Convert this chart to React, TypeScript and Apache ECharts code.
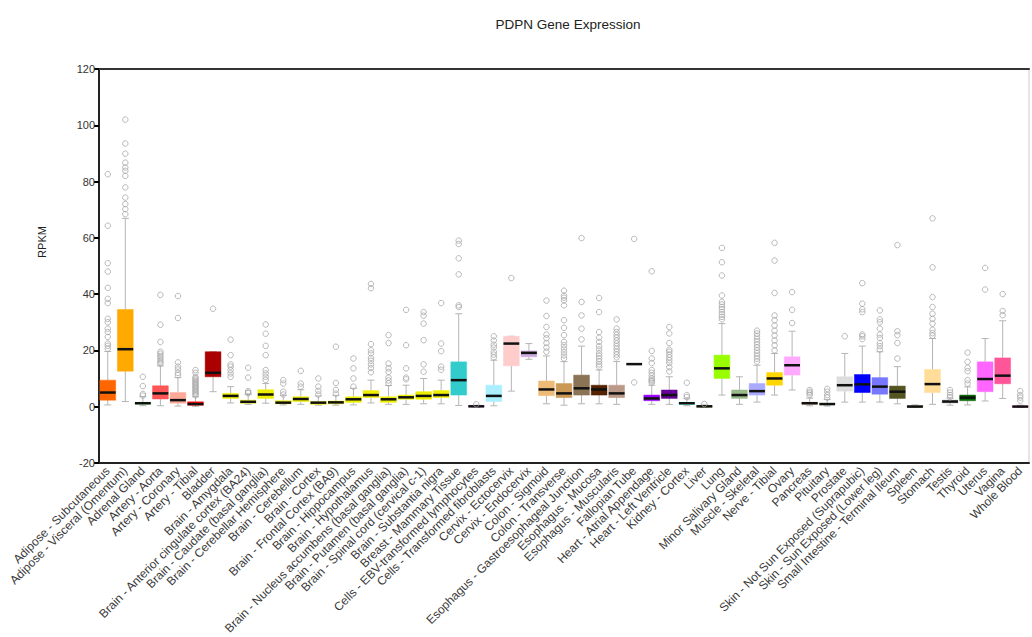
import React, { useEffect, useRef } from "react";
import * as echarts from "echarts";

const titleText = "PDPN Gene Expression";
const yAxisName = "RPKM";

const tissues = [
  "Adipose - Subcutaneous", "Adipose - Visceral (Omentum)", "Adrenal Gland", "Artery - Aorta",
  "Artery - Coronary", "Artery - Tibial", "Bladder", "Brain - Amygdala",
  "Brain - Anterior cingulate cortex (BA24)", "Brain - Caudate (basal ganglia)",
  "Brain - Cerebellar Hemisphere", "Brain - Cerebellum", "Brain - Cortex",
  "Brain - Frontal Cortex (BA9)", "Brain - Hippocampus", "Brain - Hypothalamus",
  "Brain - Nucleus accumbens (basal ganglia)", "Brain - Putamen (basal ganglia)",
  "Brain - Spinal cord (cervical c-1)", "Brain - Substantia nigra", "Breast - Mammary Tissue",
  "Cells - EBV-transformed lymphocytes", "Cells - Transformed fibroblasts", "Cervix - Ectocervix",
  "Cervix - Endocervix", "Colon - Sigmoid", "Colon - Transverse",
  "Esophagus - Gastroesophageal Junction", "Esophagus - Mucosa", "Esophagus - Muscularis",
  "Fallopian Tube", "Heart - Atrial Appendage", "Heart - Left Ventricle", "Kidney - Cortex",
  "Liver", "Lung", "Minor Salivary Gland", "Muscle - Skeletal", "Nerve - Tibial", "Ovary",
  "Pancreas", "Pituitary", "Prostate", "Skin - Not Sun Exposed (Suprapubic)",
  "Skin - Sun Exposed (Lower leg)", "Small Intestine - Terminal Ileum", "Spleen", "Stomach",
  "Testis", "Thyroid", "Uterus", "Vagina", "Whole Blood",
];

const boxColors = [
  "#FF6600", "#FFAA00", "#33DD33", "#FF5555", "#FFAA99", "#FF0000", "#AA0000", "#EEEE00",
  "#EEEE00", "#EEEE00", "#EEEE00", "#EEEE00", "#EEEE00", "#EEEE00", "#EEEE00", "#EEEE00",
  "#EEEE00", "#EEEE00", "#EEEE00", "#EEEE00", "#33CCCC", "#CC66FF", "#AAEEFF", "#FFCCCC",
  "#CCAADD", "#EEBB77", "#CC9955", "#8B7355", "#552200", "#BB9988", "#FFCCCC", "#9900FF",
  "#660099", "#22FFDD", "#AABB66", "#99FF00", "#99BB88", "#AAAAFF", "#FFD700", "#FFAAFF",
  "#995522", "#AAFF99", "#DDDDDD", "#0000FF", "#7777FF", "#555522", "#778855", "#FFDD99",
  "#AAAAAA", "#006600", "#FF66FF", "#FF5599", "#FF00BB",
];

const whiskerLow = [
  0.6, 1.8, 0.3, 0.3, 0.2, 0.1, 5.3, 1.3, 0.8, 1.2, 0.6, 0.8, 0.5, 0.5, 0.6, 1.3, 0.8, 0.8,
  1.0, 1.0, 0.4, -0.2, 0.3, 5.5, 16.8, 1.0, 0.5, 1.0, 1.0, 0.8, 15.1, 0.8, 0.8, 0.3, -0.3,
  4.1, 0.8, 1.6, 4.1, 5.9, 0.3, 0.2, 1.6, 1.6, 1.6, 1.0, -0.2, 0.8, 0.5, 0.6, 2.0, 2.9, -0.2,
];
const q1 = [
  2.3, 12.6, 0.9, 2.7, 1.2, 0.5, 10.6, 2.9, 1.2, 2.9, 1.0, 1.8, 0.8, 1.0, 1.5, 3.2, 1.5, 2.6,
  2.6, 3.2, 4.1, -0.1, 1.8, 14.5, 17.7, 3.9, 3.2, 4.1, 4.1, 3.2, 15.1, 2.1, 2.9, 0.8, -0.2,
  10.0, 2.9, 4.1, 7.6, 11.2, 0.9, 0.7, 5.5, 5.0, 4.4, 2.9, -0.1, 5.0, 1.3, 2.1, 5.3, 8.1, -0.1,
];
const medians = [
  5.0, 20.4, 1.2, 4.7, 2.3, 0.9, 12.0, 3.8, 1.7, 4.3, 1.4, 2.7, 1.4, 1.5, 2.6, 4.1, 2.6, 3.3,
  3.8, 4.1, 9.4, 0.1, 3.8, 22.4, 19.1, 6.1, 4.7, 6.5, 6.1, 4.7, 15.1, 2.9, 4.1, 1.2, 0.1,
  13.6, 4.1, 5.5, 10.0, 14.7, 1.2, 0.9, 7.6, 7.9, 7.1, 5.3, 0.0, 8.0, 1.8, 3.2, 9.8, 11.0, 0.0,
];
const q3 = [
  9.4, 34.5, 1.5, 7.4, 5.0, 1.7, 19.5, 4.7, 2.3, 6.0, 2.1, 3.5, 1.8, 2.0, 3.5, 5.7, 3.5, 4.1,
  5.3, 5.7, 15.9, 0.3, 7.6, 25.0, 19.8, 9.1, 8.2, 11.2, 7.6, 7.6, 15.1, 4.1, 5.9, 1.5, 0.3,
  18.3, 5.9, 8.2, 12.1, 17.7, 1.5, 1.2, 10.6, 11.4, 10.3, 7.3, 0.3, 13.2, 2.3, 4.1, 15.9, 17.3, 0.2,
];
const whiskerHigh = [
  19.6, 66.9, 3.5, 14.5, 10.3, 3.5, 19.5, 7.1, 4.3, 8.2, 4.0, 6.0, 3.8, 4.0, 6.5, 9.4, 7.5, 7.6,
  10.0, 9.4, 33.0, 0.5, 16.5, 25.0, 22.4, 18.0, 16.0, 21.5, 13.0, 16.0, 15.1, 7.6, 10.6, 2.8, 0.6,
  29.5, 10.6, 14.7, 18.9, 26.8, 3.0, 2.5, 18.9, 21.5, 19.5, 14.2, 0.6, 24.2, 3.0, 7.0, 24.2, 30.5, 0.5,
];

const outliers: number[][] = [
  [82.6, 64.3, 51, 48, 42.2, 38.3, 36.8, 31.2, 30, 27.7, 26.5, 24.8, 22.4, 21.6, 20.6],
  [102, 93.5, 89.9, 86.7, 85, 83.8, 82, 77.9, 74.3, 72, 70.2, 68.4],
  [10.6, 7.3, 4.5, 3.9],
  [39.7, 29.1, 23, 19.5, 18.8, 18, 17.3, 16.5, 15.8, 15.2],
  [39.3, 31.5, 15.7, 14.2, 13.2, 12, 11.2],
  [13, 12, 10.5, 10, 9.5, 9, 8.5, 8, 7.5, 7, 6.5, 6, 5.5, 5, 4.5, 4],
  [34.8],
  [23.8, 18.3, 15, 14.2, 13, 11.8, 10.6],
  [13.8, 10.3, 5.5, 5.0, 4.8],
  [29.2, 25.9, 21.6, 18.3, 13, 11.8, 10.6, 9.5],
  [9.4, 8.2, 5.3, 4.3],
  [12.7, 8.2, 7.1],
  [10, 7.1, 5.6, 4.3],
  [21.3, 8.4, 5.9, 4.6],
  [17.1, 13.6, 10, 7.1],
  [43.6, 42.1, 22.2, 20, 18.9, 17.3, 16.3, 15, 13.7, 12.2],
  [25.4, 22.6, 15.3, 13.6, 12.3, 10.3, 9.3, 8.3],
  [34.4, 21.8, 13.6, 10.3, 9.7],
  [33.6, 32.3, 29.5, 23.6, 15, 12.4],
  [36.8, 22.4, 19.7, 14.2, 13.1],
  [59, 57.8, 52.7, 47, 36, 35.4],
  [0.8],
  [25, 23.5, 22, 21, 19.5, 18.5, 17.5],
  [45.7],
  [],
  [37.7, 32.2, 28.3, 25.6, 24.3, 22.6, 21, 19.5],
  [41.2, 39.5, 38.7, 37.7, 36, 30.7, 28, 25.4, 23, 21.8, 20.6, 19.4, 18.2, 17.1],
  [59.9, 37.2, 32.4, 27.7, 23.9],
  [38.6, 33.6, 26.5, 24.5, 23, 21.5, 20.3, 19, 18, 17, 16, 15, 14.2],
  [31, 27.7, 26.5, 25.5, 24.5, 23.5, 22.5, 21.5, 20.5, 19.5, 18.5, 17.5],
  [59.6, 8.6],
  [48.1, 19.8, 17.1, 15.5, 13, 12, 11, 10, 9.5, 9, 8.5],
  [28.3, 26, 22.6, 20.2, 19.5, 18.5, 17.5, 16.5, 15.5, 14, 12.5],
  [8.5, 4.1, 3.4],
  [0.9],
  [56.4, 51.3, 46.6, 39.5, 37.2, 36.3, 35.4, 34.6, 33.6, 32.7, 31.9, 31.0],
  [],
  [27, 26, 25, 24, 23, 22, 21, 20, 19, 18, 17, 16],
  [58.2, 51.9, 40.4, 32.4, 30.7, 28.8, 27, 25.3, 23.5, 21.8, 20],
  [40.7, 34.4, 29.7],
  [5.9, 5.3, 4.7, 4.1],
  [6.3, 5.3, 4.1, 3.2],
  [25],
  [43.9, 36.6, 34.6, 33.6, 25.6, 25, 24],
  [34.2, 31, 30, 27.7, 25.6, 24.4, 22.6, 21.5, 20.3],
  [57.4, 26.8, 25.4, 22.6, 17.1],
  [],
  [66.9, 49.5, 38.9, 35.4, 33, 31.2, 29.5, 27.3, 26.1, 25.2],
  [5.9, 5.0, 4.1, 3.3],
  [19.2, 15.9, 13.8, 12.6, 9.4, 8.2],
  [49.3, 41.6],
  [40, 34, 32.5],
  [5.5, 4.1, 3.2, 2.1],
];

const yTicks = { min: -20, max: 120, interval: 20 };

const FONT = "'Liberation Sans', Arial, sans-serif";

export default function App() {
  const ref = useRef<HTMLDivElement>(null);

  useEffect(() => {
    if (!ref.current) return;
    const chart = echarts.init(ref.current, undefined, { renderer: "svg" });

    const boxData = tissues.map((_, i) => [i, whiskerLow[i], q1[i], medians[i], q3[i], whiskerHigh[i]]);
    const outlierData: number[][] = [];
    outliers.forEach((arr, i) => arr.forEach((v) => outlierData.push([i, v])));

    const option: any = {
      animation: false,
      backgroundColor: "#fff",
      textStyle: { fontFamily: FONT },
      graphic: [
        {
          type: "text",
          x: 568,
          y: 24,
          style: {
            text: titleText,
            fontSize: 13.5,
            fontFamily: FONT,
            fill: "#222",
            textAlign: "center",
            textVerticalAlign: "middle",
          },
        },
        {
          type: "text",
          x: 42,
          y: 242,
          rotation: Math.PI / 2,
          style: {
            text: yAxisName,
            fontSize: 11,
            fontFamily: FONT,
            fill: "#222",
            textAlign: "center",
            textVerticalAlign: "middle",
          },
        },
      ],
      grid: {
        left: 99,
        right: 3,
        top: 69,
        bottom: 172,
        show: true,
        borderColor: "#ccc",
        borderWidth: 1,
      },
      xAxis: [
        {
          type: "category",
          data: tissues,
          boundaryGap: true,
          axisLine: { onZero: false, lineStyle: { color: "#222", width: 2 } },
          axisTick: { alignWithLabel: true, length: 5, lineStyle: { color: "#000", width: 2 } },
          axisLabel: {
            rotate: 45,
            interval: 0,
            fontSize: 12,
            color: "#3a3a3a",
            fontFamily: FONT,
            margin: 6,
          },
          splitLine: { show: false },
        },
        {
          type: "category",
          data: tissues,
          position: "top",
          axisLine: { onZero: false, lineStyle: { color: "#333", width: 2 } },
          axisTick: { show: false },
          axisLabel: { show: false },
        },
      ],
      yAxis: {
        type: "value",
        min: yTicks.min,
        max: yTicks.max,
        interval: yTicks.interval,
        axisLine: { show: true, lineStyle: { color: "#222", width: 2 } },
        axisTick: { show: true, length: 5, lineStyle: { color: "#000", width: 2 } },
        axisLabel: { fontSize: 11, color: "#333", fontFamily: FONT, margin: 4 },
        splitLine: { show: false },
      },
      series: [
        {
          type: "custom",
          data: boxData,
          encode: { x: 0, y: [1, 2, 3, 4, 5] },
          renderItem: (params: any, api: any) => {
            const i = api.value(0);
            const pLo = api.coord([i, api.value(1)]);
            const pQ1 = api.coord([i, api.value(2)]);
            const pMed = api.coord([i, api.value(3)]);
            const pQ3 = api.coord([i, api.value(4)]);
            const pHi = api.coord([i, api.value(5)]);
            const bw = api.size([1, 0])[0];
            const boxW = bw * 0.9;
            const capW = bw * 0.4;
            const x = pLo[0];
            const color = boxColors[params.dataIndex];
            const wStyle = { stroke: "#b5b5b5", lineWidth: 1 };
            return {
              type: "group",
              children: [
                { type: "line", shape: { x1: x, y1: pHi[1], x2: x, y2: pQ3[1] }, style: wStyle },
                { type: "line", shape: { x1: x, y1: pQ1[1], x2: x, y2: pLo[1] }, style: wStyle },
                { type: "line", shape: { x1: x - capW / 2, y1: pHi[1], x2: x + capW / 2, y2: pHi[1] }, style: wStyle },
                { type: "line", shape: { x1: x - capW / 2, y1: pLo[1], x2: x + capW / 2, y2: pLo[1] }, style: wStyle },
                {
                  type: "rect",
                  shape: { x: x - boxW / 2, y: pQ3[1], width: boxW, height: Math.max(pQ1[1] - pQ3[1], 0.5) },
                  style: { fill: color, stroke: color, lineWidth: 0.5 },
                },
                {
                  type: "line",
                  shape: { x1: x - boxW / 2, y1: pMed[1], x2: x + boxW / 2, y2: pMed[1] },
                  style: { stroke: "#111", lineWidth: 2.5 },
                },
              ],
            };
          },
          z: 2,
        },
        {
          type: "scatter",
          data: outlierData,
          symbol: "circle",
          symbolSize: 5.5,
          itemStyle: { color: "rgba(0,0,0,0)", borderColor: "#a8a8a8", borderWidth: 1 },
          z: 3,
        },
      ],
    };

    chart.setOption(option);
    return () => chart.dispose();
  }, []);

  return (
    <div
      ref={ref}
      style={{ position: "absolute", left: 0, top: 0, width: 1032, height: 637 }}
    />
  );
}
